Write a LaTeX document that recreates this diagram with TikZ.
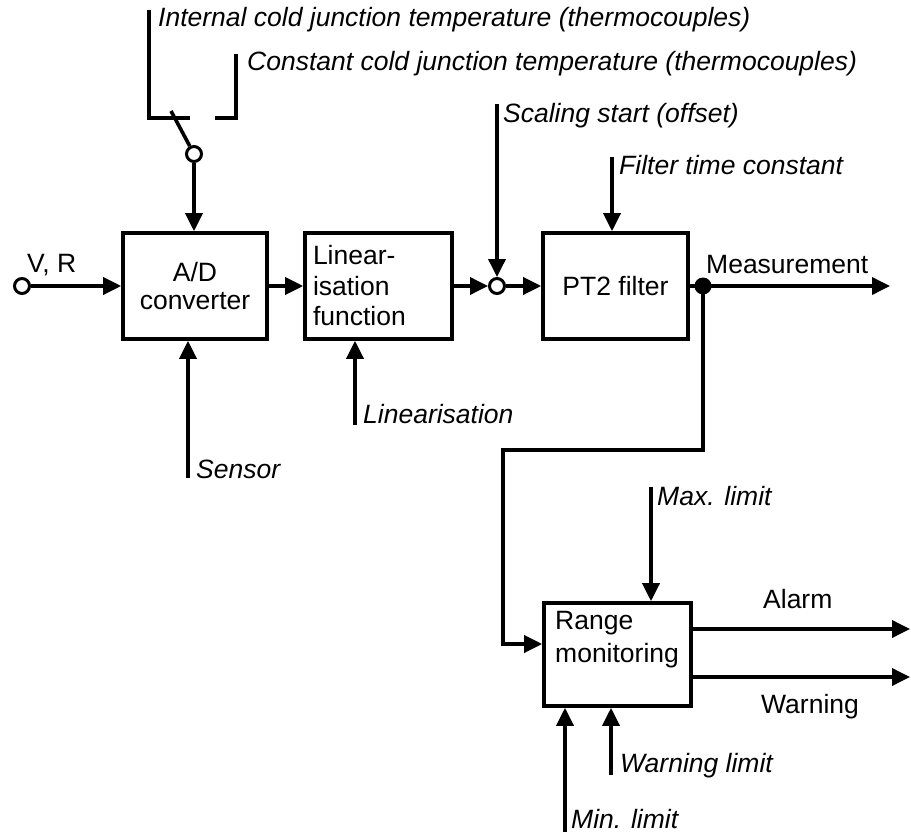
\documentclass[tikz,border=0pt]{standalone}
\usepackage{fontspec}
\setmainfont{Liberation Sans}
\usetikzlibrary{arrows.meta}
\begin{document}
\begin{tikzpicture}[x=1pt,y=-1pt,
  ln/.style={line width=3.6pt},
  arr/.style={ln,-{Triangle[length=18pt,width=17pt]}},
  blk/.style={draw,ln,rectangle,minimum height=106pt,inner sep=0pt},
  lbl/.style={anchor=base west,inner sep=0pt,font=\fontsize{26.5}{30}\selectfont\itshape},
  txt/.style={inner sep=0pt,font=\fontsize{26.5}{30}\selectfont},
  opencirc/.style={draw,circle,line width=3pt,fill=white,minimum size=15pt,inner sep=0pt},
  dotc/.style={circle,fill=black,minimum size=17pt,inner sep=0pt}]
\useasboundingbox (0,0) rectangle (911,832);

% blocks
\node[blk,minimum width=144pt,align=center,font=\fontsize{26.5}{28}\selectfont] (ad) at (195,286) {A/D\\converter};
\node[blk,minimum width=147pt,text width=131pt,align=left,font=\fontsize{26.5}{30.5}\selectfont] (lin) at (378.5,286) {Linear-\\isation\\function};
\node[blk,minimum width=145pt,font=\fontsize{26.5}{30}\selectfont] (pt2) at (615.5,286) {PT2 filter};
\node[blk,minimum width=147pt,minimum height=103pt] (rng) at (617.5,654.5) {};
\node[txt,anchor=north west,align=left,font=\fontsize{26.5}{33}\selectfont] (rngtxt) at (555,611) {Range\\monitoring};

% input V, R
\node[opencirc] (vr) at (22,286) {};
\draw[arr] (vr.east) -- (ad.west);
\node[txt,anchor=base west] (vrtxt) at (27,272) {V, R};

% switch
\coordinate (ca) at (149,10);
\coordinate (cb) at (149,118);
\coordinate (cc) at (190,118);
\coordinate (cd) at (236,54);
\coordinate (ce) at (236,118);
\coordinate (cf) at (215,118);
\coordinate (blade) at (171,111);
\draw[ln] (ca) -- (cb) -- (cc);
\draw[ln] (cd) -- (ce) -- (cf);
\node[opencirc] (sw) at (194,154) {};
\draw[ln] (blade) -- (sw);
\draw[arr] (sw.south) -- (sw.south |- ad.north);
\node[lbl] (intl) at (158,27) {Internal cold junction temperature (thermocouples)};
\node[lbl] (const) at (247,71) {Constant cold junction temperature (thermocouples)};

% sensor
\coordinate (sens) at (188,478);
\draw[arr] (sens) -- (sens |- ad.south);
\node[lbl] (senstxt) at (196,478) {Sensor};

% linearisation
\draw[arr] (ad.east) -- (lin.west);
\coordinate (linin) at (355,425);
\draw[arr] (linin) -- (linin |- lin.south);
\node[lbl] (lintxt) at (363,423) {Linearisation};

% summing point
\node[opencirc] (sum) at (497,286) {};
\draw[arr] (lin.east) -- (sum.west);
\draw[arr] (sum.east) -- (pt2.west);
\coordinate (scal) at (497,104);
\draw[arr] (scal) -- (sum.north);
\node[lbl] (scaltxt) at (503,123) {Scaling start (offset)};

% filter
\coordinate (filt) at (612,157);
\draw[arr] (filt) -- (filt |- pt2.north);
\node[lbl] (filttxt) at (619,175) {Filter time constant};

% measurement
\node[dotc] (jd) at (703,286) {};
\draw[ln] (pt2.east) -- (jd.center);
\coordinate (meas) at (890,286);
\draw[arr] (jd.center) -- (meas);
\node[txt,anchor=base west] (meastxt) at (706,273) {Measurement};

% feedback to range monitoring
\coordinate (fb1) at (703,450);
\coordinate (fb2) at (503,450);
\coordinate (fbin) at (503,644);
\draw[arr] (jd.center) -- (fb1) -- (fb2) -- (fbin) -- (fbin -| rng.west);

% max limit
\coordinate (maxe) at (651,487);
\draw[arr] (maxe) -- (maxe |- rng.north);
\node[lbl] (maxtxt) at (657,505) {Max. limit};

% outputs
\coordinate (alarmy) at (0,629);
\coordinate (alarmend) at (910,629);
\draw[arr] (rng.east |- alarmy) -- (alarmend);
\node[txt,anchor=base west] (alarmtxt) at (763,608) {Alarm};
\coordinate (warny) at (0,677);
\coordinate (warnend) at (910,677);
\draw[arr] (rng.east |- warny) -- (warnend);
\node[txt,anchor=base west] (warntxt) at (761,713) {Warning};

% min and warning limits
\coordinate (mine) at (565,832);
\draw[arr] (mine) -- (mine |- rng.south);
\node[lbl] (mintxt) at (571,828) {Min. limit};
\coordinate (wle) at (611,775);
\draw[arr] (wle) -- (wle |- rng.south);
\node[lbl] (wltxt) at (620,772) {Warning limit};
\end{tikzpicture}
\end{document}
